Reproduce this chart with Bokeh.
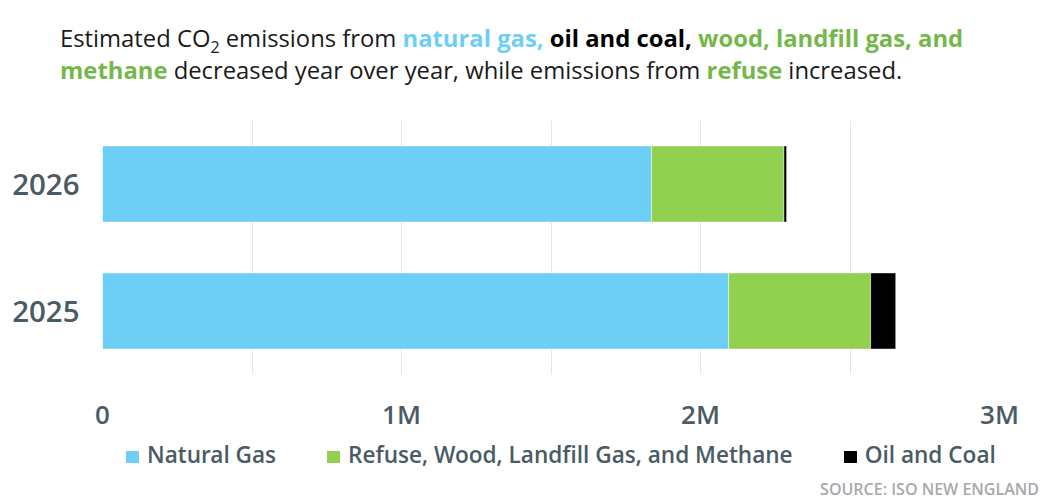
from bokeh.plotting import figure
from bokeh.models import ColumnDataSource, FactorRange, Range1d, FixedTicker, Div
from bokeh.layouts import column
from bokeh.embed import file_html
from bokeh.resources import INLINE

years = ["2025", "2026"]
natural_gas = [2.094e6, 1.836e6]
refuse_wood_landfill_methane = [0.475e6, 0.443e6]
oil_and_coal = [0.084e6, 0.009e6]
series_names = ["Natural Gas", "Refuse, Wood, Landfill Gas, and Methane", "Oil and Coal"]
series_colors = ["#6DCFF6", "#92D050", "#000000"]
x_ticks = [0, 1e6, 2e6, 3e6]
x_tick_labels = ["0", "1M", "2M", "3M"]
grid_ticks = [0.5e6, 1e6, 1.5e6, 2e6, 2.5e6, 3e6]

FONT = "Open Sans"
SEMI = "Open Sans SemiBold, Open Sans"
AXIS_COLOR = "#4A5B65"

src = ColumnDataSource(dict(year=years, ng=natural_gas, rw=refuse_wood_landfill_methane, oc=oil_and_coal))

title_html = (
    '<div style="font-family:\'Open Sans\';font-size:23.8px;line-height:32px;color:#1a1a1a;'
    'white-space:nowrap;padding-left:60px;padding-top:22px;">'
    'Estimated CO<sub style="font-size:16px;line-height:0;">2</sub> emissions from '
    '<b style="color:#6DCFF6;">natural gas,</b> <b style="color:#000;">oil and coal,</b> '
    '<b style="color:#74B84A;">wood, landfill gas, and</b><br>'
    '<b style="color:#74B84A;">methane</b> decreased year over year, while emissions from '
    '<b style="color:#74B84A;">refuse</b> increased.</div>'
)
div = Div(text=title_html, width=1050, height=104, margin=(0, 0, 0, 0))

p = figure(frame_width=897, frame_height=254, y_range=FactorRange(*years, range_padding=0),
           x_range=Range1d(0, 3e6), output_backend="svg", toolbar_location=None,
           min_border_left=102, min_border_right=51, min_border_top=16, min_border_bottom=62,
           outline_line_color=None, margin=(0, 0, 0, 0))

rs = p.hbar_stack(["ng", "rw", "oc"], y="year", height=0.6, color=series_colors,
                  line_color="white", line_width=0.5, source=src)

p.xaxis.ticker = FixedTicker(ticks=x_ticks)
p.xaxis.major_label_overrides = {t: l for t, l in zip(x_ticks, x_tick_labels)}
p.xaxis.axis_line_color = None
p.xaxis.major_tick_line_color = None
p.xaxis.minor_tick_line_color = None
p.xaxis.major_label_text_font = SEMI
p.xaxis.major_label_text_font_size = "26px"
p.xaxis.major_label_text_color = AXIS_COLOR
p.xaxis.major_label_standoff = 15

p.yaxis.axis_line_color = None
p.yaxis.major_tick_line_color = None
p.yaxis.major_label_text_font = SEMI
p.yaxis.major_label_text_font_size = "29.5px"
p.yaxis.major_label_text_color = AXIS_COLOR
p.yaxis.major_label_standoff = 17

p.xgrid.ticker = FixedTicker(ticks=grid_ticks)
p.xgrid.grid_line_color = "#E6E6E6"
p.ygrid.grid_line_color = None

items = []
for i, (name, color) in enumerate(zip(series_names, series_colors)):
    gap = "0" if i == len(series_names) - 1 else "51px"
    items.append(
        f'<span style="display:inline-flex;align-items:center;margin-right:{gap};">'
        f'<span style="display:inline-block;width:13px;height:12px;background:{color};'
        f'position:relative;top:2px;margin-right:8px;"></span>'
        f'<span>{name}</span></span>'
    )
legend_html = ('<div style="font-family:\'Open Sans SemiBold\',\'Open Sans\';font-size:22.6px;color:' + AXIS_COLOR + ';'
               'display:flex;align-items:center;height:39px;padding-left:126px;white-space:nowrap;">'
               + "".join(items) + '</div>')
legend_div = Div(text=legend_html, width=1050, height=42, margin=(0, 0, 0, 0))

source_html = ('<div style="font-family:\'Open Sans SemiBold\',\'Open Sans\';font-size:16px;color:#A7A9AC;'
               'text-align:right;width:1039px;line-height:22px;white-space:nowrap;">SOURCE: ISO NEW ENGLAND</div>')
src_div = Div(text=source_html, width=1050, height=25, margin=(0, 0, 0, 0))

layout = column(div, p, legend_div, src_div, spacing=0)
open("out.html", "w").write(file_html(layout, INLINE))
